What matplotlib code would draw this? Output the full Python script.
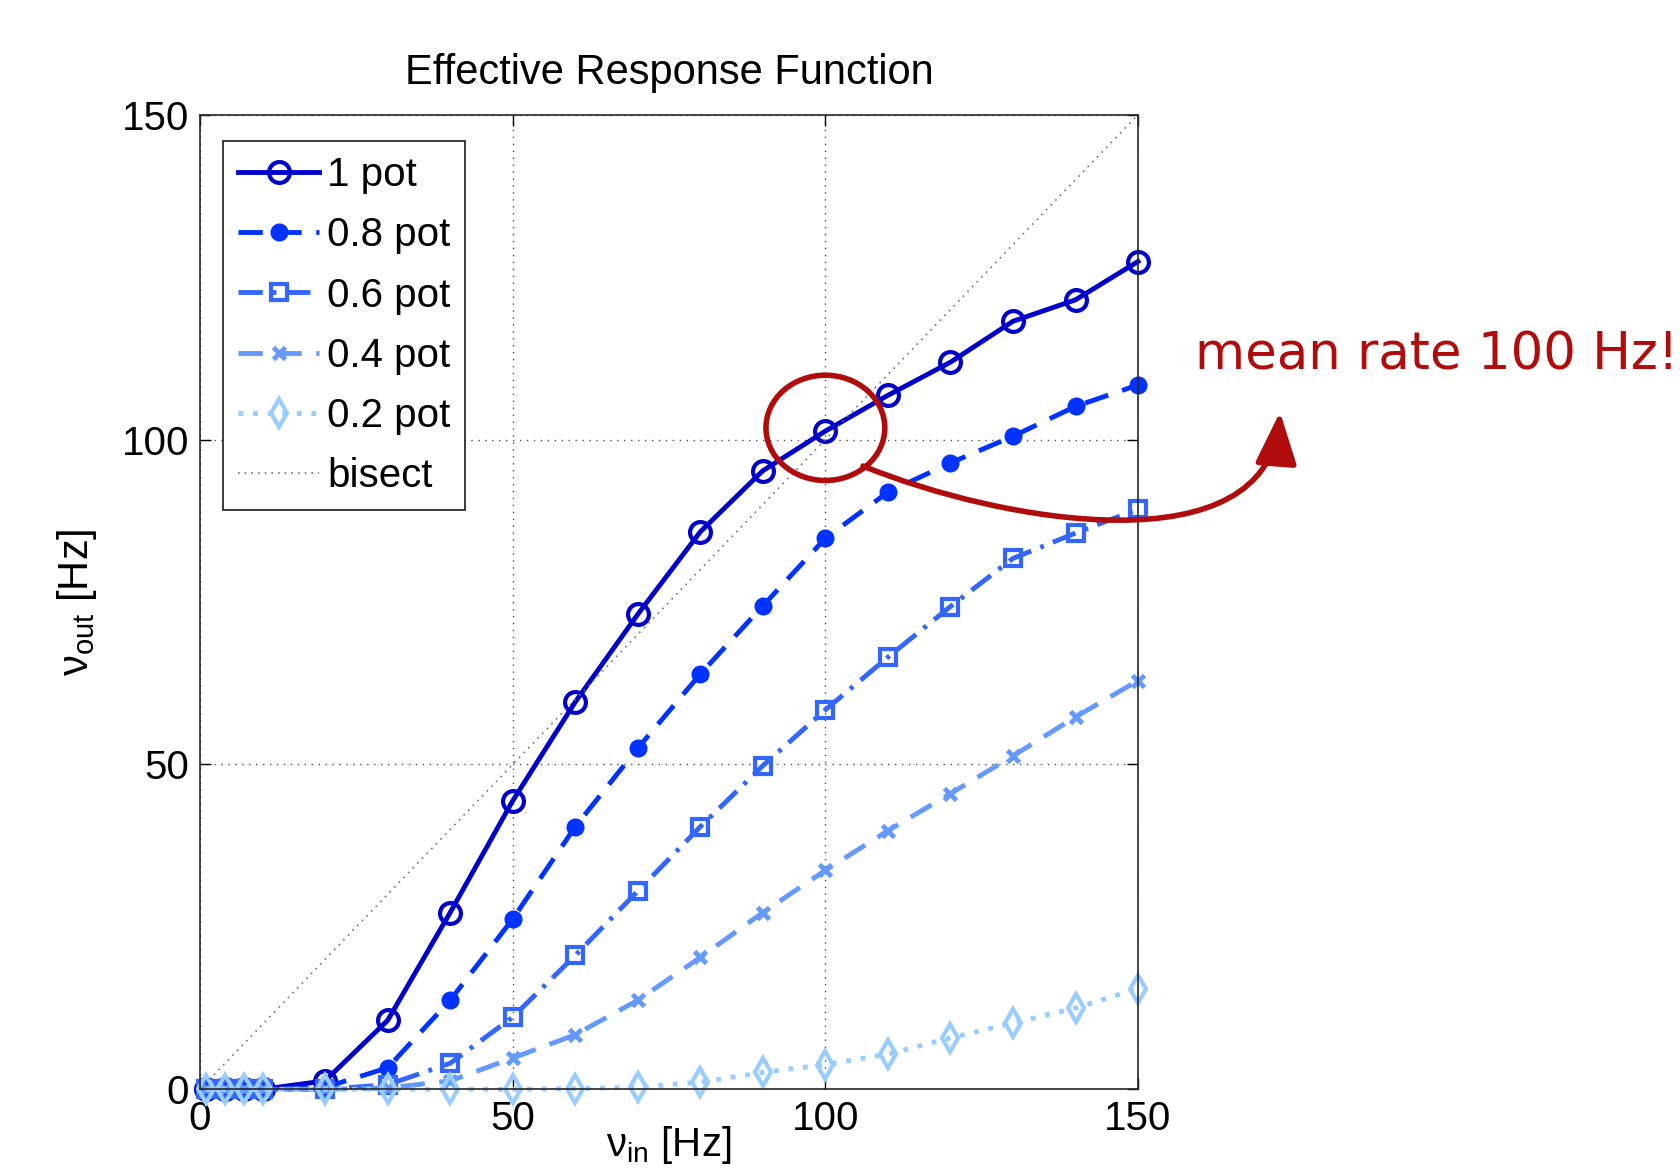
import matplotlib
matplotlib.use("Agg")
import matplotlib.pyplot as plt
from matplotlib.patches import Ellipse, FancyArrowPatch
from matplotlib.path import Path

plt.rcParams['font.family'] = ['Liberation Sans', 'DejaVu Sans']

# input rate [Hz]
nu_in = [1, 4, 7, 10, 20, 30, 40, 50, 60, 70, 80, 90, 100, 110, 120, 130, 140, 150]

# output rate [Hz] for the different potentiation levels
pot_10 = [0, 0, 0, 0, 1.3, 10.6, 27.2, 44.4, 59.6, 73.1, 85.8, 95.2, 101.3, 106.8, 111.9, 118.2, 121.5, 127.4]
pot_08 = [0, 0, 0, 0, 0.3, 3.3, 13.7, 26.2, 40.4, 52.5, 63.9, 74.4, 84.8, 91.9, 96.4, 100.5, 105.1, 108.4]
pot_06 = [0, 0, 0, 0, 0, 0.7, 4.0, 11.1, 20.6, 30.5, 40.4, 49.8, 58.4, 66.5, 74.3, 81.7, 85.6, 89.3]
pot_04 = [0, 0, 0, 0, 0, 0.2, 1.3, 4.8, 8.4, 13.7, 20.3, 27.2, 33.7, 39.8, 45.5, 51.3, 57.3, 62.9]
pot_02 = [0, 0, 0, 0, 0, 0, 0, 0, 0.1, 0.3, 1.1, 2.6, 3.8, 5.4, 7.9, 10.2, 12.5, 15.5]

labels = ['1 pot', '0.8 pot', '0.6 pot', '0.4 pot', '0.2 pot']
ticks = [0, 50, 100, 150]

RED = '#b00c0c'


def plot_curves(ax):
    ax.plot(nu_in, pot_10, color=(0, 0, 0.8), lw=3.5, ls='-', marker='o', ms=15,
            mew=3, mfc='none', label=labels[0], clip_on=False)
    ax.plot(nu_in, pot_08, color=(0, 0.2, 1), lw=3.5, ls=(0, (5, 3)), marker='o',
            ms=12, mew=1, label=labels[1], clip_on=False)
    ax.plot(nu_in, pot_06, color=(0.2, 0.4, 1), lw=3.5, ls=(0, (5, 2, 0.8, 2)), marker='s',
            ms=11, mew=3, mfc='none', label=labels[2], clip_on=False)
    ax.plot(nu_in, pot_04, color=(0.4, 0.6, 1), lw=3.5, ls=(0, (5, 3)), marker='x',
            ms=8, mew=3.5, label=labels[3], clip_on=False)
    ax.plot(nu_in, pot_02, color=(0.6, 0.8, 1), lw=3.5, ls=(0, (1, 2)), marker='d',
            ms=14, mew=3, mfc='none', label=labels[4], clip_on=False)
    ax.plot([0, 150], [0, 150], color='0.45', lw=1.2, ls=(0, (1, 3)), label='bisect')


def main():
    fig = plt.figure(figsize=(16.81, 11.70), dpi=100)
    ax = fig.add_axes([0.119, 0.069, 0.558, 0.833])

    plot_curves(ax)

    ax.set_xlim(0, 150)
    ax.set_ylim(0, 150)
    ax.set_xticks(ticks)
    ax.set_yticks(ticks)
    ax.tick_params(direction='in', top=True, right=True, length=8, width=1,
                   labelsize=29, pad=8)
    ax.grid(True, color='0.3', lw=1, ls=(0, (1, 4)))
    for s in ax.spines.values():
        s.set_linewidth(1.2)
        s.set_color('0.15')

    ax.set_title('Effective Response Function', fontsize=30, pad=22)
    ax.set_xlabel(r'$\mathregular{\nu_{in}}$ [Hz]', fontsize=29, labelpad=-10)
    ax.set_ylabel(r'$\mathregular{\nu_{out}}$ [Hz]', fontsize=30, labelpad=16)

    leg = ax.legend(loc='upper left', bbox_to_anchor=(0.0245, 0.973), fontsize=29,
                    frameon=True, fancybox=False, framealpha=1, edgecolor='0.1',
                    borderaxespad=0, borderpad=0.38, labelspacing=0.55,
                    handlelength=2.0, handletextpad=0.2)
    leg.get_frame().set_linewidth(1.2)

    # highlight the 100 Hz point
    i100 = nu_in.index(100)
    ax.add_patch(Ellipse((nu_in[i100], pot_10[i100] + 0.5), 19, 16.2, fill=False,
                         edgecolor=RED, lw=4, clip_on=False, zorder=5))

    verts = [(863, 466), (1000, 522), (1268, 570), (1280, 412)]
    verts = [(x / 1681, 1 - y / 1170) for x, y in verts]
    path = Path(verts, [Path.MOVETO, Path.CURVE4, Path.CURVE4, Path.CURVE4])
    arrow = FancyArrowPatch(path=path, arrowstyle='-|>,head_length=0.8,head_width=0.32',
                            mutation_scale=40, color=RED, lw=4,
                            transform=fig.transFigure)
    fig.add_artist(arrow)

    fig.text(1195 / 1681, 1 - 369 / 1170, 'mean rate 100 Hz!', fontsize=37,
             family='DejaVu Sans', color=RED, va='baseline')

    fig.savefig('out.png', dpi=100)


if __name__ == "__main__":
    main()
